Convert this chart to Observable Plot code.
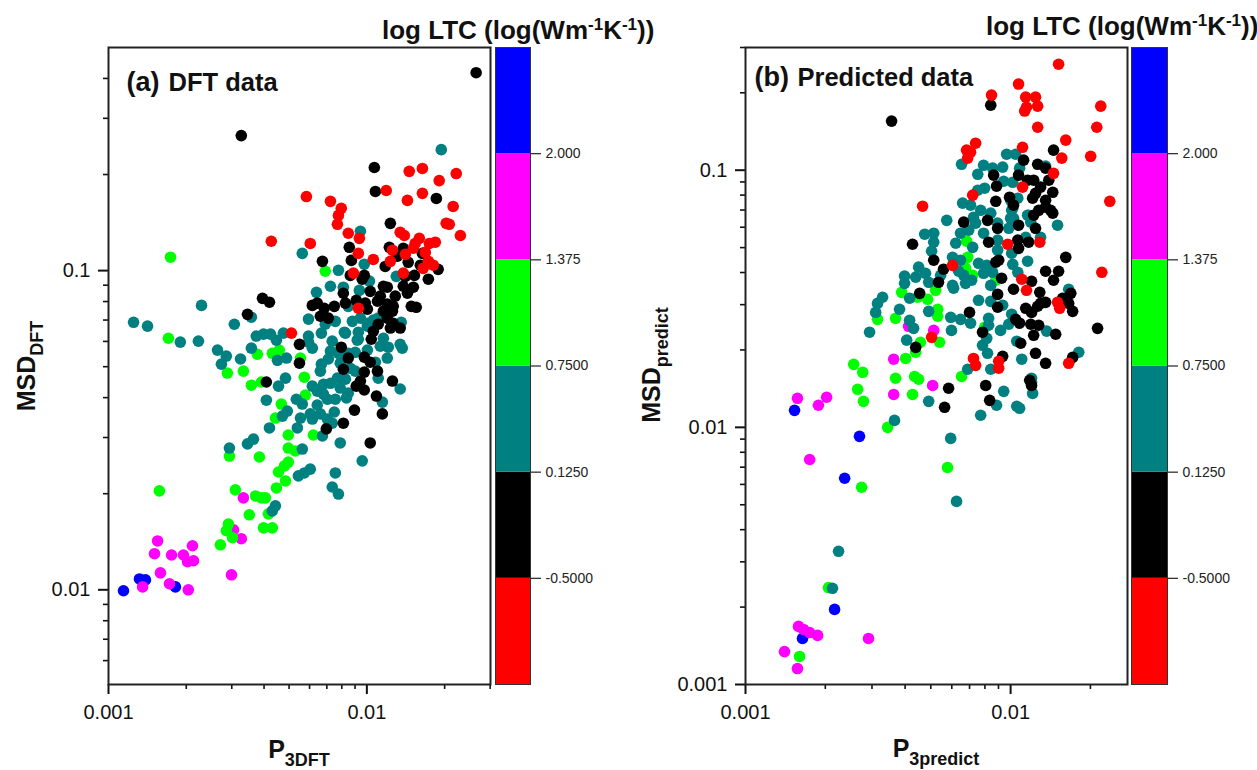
<!DOCTYPE html>
<html><head><meta charset="utf-8">
<script src="https://cdn.jsdelivr.net/npm/d3@7"></script>
<script src="https://cdn.jsdelivr.net/npm/@observablehq/plot@0.6"></script>
<style>
html,body{margin:0;padding:0;background:#fff;}
#page{position:relative;width:1257px;height:770px;overflow:hidden;font-family:"Liberation Sans",Arial,sans-serif;color:#111;}
#page svg{position:absolute;top:0;max-width:none;background:transparent;}
.t{position:absolute;white-space:nowrap;font-weight:bold;line-height:1;}
.lab{font-size:25px;}
.lab sub{font-size:18px;vertical-align:-8px;line-height:0;}
.cb{font-size:26px;}
.cb sup{font-size:17px;vertical-align:9px;line-height:0;}
</style></head><body><div id="page"></div>
<script>
// Values are log10(P3) , log10(MSD) pairs, one list per LTC class.
const aBlue=[[-2.942,-2.003],[-2.880,-1.966],[-2.857,-1.969],[-2.741,-1.991]];
const aMagenta=[[-2.810,-1.847],[-2.822,-1.887],[-2.756,-1.891],[-2.710,-1.891],[-2.694,-1.912],[-2.671,-1.909],[-2.675,-1.862],[-2.799,-1.947],[-2.764,-1.981],[-2.868,-1.991],[-2.691,-2.000],[-2.524,-1.953],[-2.486,-1.840],[-2.478,-1.712],[-2.516,-1.812]];
const aGreen=[[-2.803,-1.690],[-2.567,-1.859],[-2.544,-1.815],[-2.520,-1.837],[-2.536,-1.794],[-2.455,-1.765],[-2.509,-1.687],[-2.431,-1.706],[-2.408,-1.712],[-2.393,-1.712],[-2.381,-1.762],[-2.400,-1.806],[-2.366,-1.806],[-2.350,-1.681],[-2.315,-1.659],[-2.342,-1.631],[-2.319,-1.612],[-2.304,-1.600],[-2.304,-1.556],[-2.277,-1.565],[-2.416,-1.584],[-2.532,-1.581],[-2.304,-1.515],[-2.207,-1.515],[-2.354,-1.462],[-2.331,-1.418],[-2.238,-1.390],[-2.242,-1.334],[-2.447,-1.359],[-2.408,-1.349],[-2.540,-1.321],[-2.478,-1.315],[-2.760,-0.958],[-2.161,-1.002],[-2.768,-1.212],[-2.424,-1.262],[-2.366,-1.259],[-2.339,-1.249],[-2.257,-1.274]];
const aTeal=[[-1.712,-0.621],[-2.025,-0.877],[-2.250,-0.946],[-2.010,-0.980],[-2.110,-0.999],[-1.886,-1.018],[-1.990,-1.033],[-2.141,-1.049],[-2.091,-1.052],[-2.195,-1.068],[-2.029,-1.062],[-2.640,-1.109],[-2.447,-1.146],[-2.903,-1.162],[-2.849,-1.174],[-2.513,-1.168],[-2.226,-1.152],[-2.122,-1.159],[-2.056,-1.159],[-2.161,-1.168],[-2.176,-1.196],[-2.087,-1.193],[-2.428,-1.205],[-2.400,-1.199],[-2.373,-1.199],[-2.350,-1.218],[-2.323,-1.196],[-2.722,-1.224],[-2.652,-1.221],[-2.578,-1.249],[-2.544,-1.268],[-2.563,-1.293],[-2.489,-1.277],[-2.447,-1.243],[-2.346,-1.281],[-2.311,-1.274],[-2.226,-1.205],[-2.226,-1.224],[-2.211,-1.243],[-2.134,-1.221],[-2.141,-1.252],[-2.110,-1.259],[-2.083,-1.196],[-2.033,-1.193],[-2.037,-1.218],[-1.998,-1.249],[-2.045,-1.256],[-2.072,-1.259],[-2.176,-1.293],[-2.149,-1.277],[-2.103,-1.290],[-2.180,-1.315],[-2.064,-1.306],[-2.045,-1.315],[-1.967,-1.287],[-1.936,-1.212],[-1.948,-1.237],[-1.917,-1.240],[-1.921,-1.274],[-1.867,-1.162],[-1.871,-1.231],[-1.863,-1.243],[-1.956,-1.337],[-1.871,-1.371],[-1.940,-1.412],[-2.083,-1.340],[-2.114,-1.337],[-2.141,-1.353],[-2.168,-1.356],[-2.103,-1.368],[-2.072,-1.384],[-2.079,-1.399],[-2.122,-1.403],[-2.153,-1.403],[-2.168,-1.387],[-2.211,-1.362],[-2.192,-1.378],[-2.315,-1.337],[-2.342,-1.362],[-2.389,-1.406],[-2.273,-1.403],[-2.250,-1.418],[-2.192,-1.421],[-2.308,-1.440],[-2.327,-1.456],[-2.257,-1.462],[-2.219,-1.449],[-2.211,-1.465],[-2.180,-1.449],[-2.126,-1.443],[-2.153,-1.465],[-2.134,-1.478],[-2.377,-1.493],[-2.269,-1.493],[-2.172,-1.518],[-2.103,-1.540],[-2.439,-1.528],[-2.462,-1.543],[-2.250,-1.559],[-2.532,-1.556],[-2.018,-1.596],[-2.122,-1.634],[-2.219,-1.622],[-2.242,-1.634],[-2.265,-1.643],[-2.134,-1.678],[-2.110,-1.700],[-2.354,-1.737],[-2.366,-1.753],[-1.998,-1.165],[-1.975,-1.155],[-1.956,-1.149],[-2.025,-1.149],[-2.072,-1.112],[-2.033,-1.215],[-1.998,-1.174]];
const aBlack=[[-1.577,-0.380],[-2.486,-0.577],[-1.971,-0.677],[-1.967,-0.752],[-1.731,-0.774],[-1.909,-0.852],[-2.068,-0.927],[-2.172,-0.971],[-2.060,-0.968],[-1.913,-0.927],[-1.859,-0.930],[-1.785,-0.946],[-1.929,-0.987],[-1.840,-0.974],[-1.882,-0.955],[-1.793,-0.983],[-1.724,-0.996],[-1.762,-1.027],[-1.816,-1.015],[-1.851,-1.018],[-2.010,-1.015],[-2.018,-1.027],[-2.064,-1.015],[-2.404,-1.087],[-2.377,-1.099],[-2.462,-1.137],[-2.091,-1.071],[-2.083,-1.102],[-2.041,-1.093],[-2.006,-1.102],[-1.987,-1.065],[-1.936,-1.049],[-1.921,-1.052],[-1.859,-1.049],[-1.820,-1.052],[-1.843,-1.071],[-1.890,-1.080],[-1.948,-1.080],[-1.959,-1.096],[-1.921,-1.105],[-1.898,-1.112],[-1.828,-1.112],[-1.809,-1.115],[-2.211,-1.109],[-2.192,-1.102],[-2.165,-1.118],[-2.180,-1.143],[-2.149,-1.149],[-2.126,-1.112],[-1.998,-1.121],[-1.936,-1.127],[-1.901,-1.127],[-1.921,-1.149],[-1.898,-1.165],[-1.909,-1.180],[-1.871,-1.180],[-1.956,-1.168],[-1.975,-1.190],[-1.983,-1.215],[-2.261,-1.231],[-2.261,-1.290],[-2.099,-1.240],[-2.389,-1.349],[-2.072,-1.274],[-2.010,-1.271],[-1.987,-1.287],[-2.091,-1.309],[-2.010,-1.318],[-1.959,-1.315],[-2.025,-1.346],[-2.041,-1.362],[-2.010,-1.374],[-1.901,-1.346],[-1.963,-1.393],[-2.048,-1.437],[-1.940,-1.449],[-2.091,-1.478],[-2.157,-1.496],[-1.987,-1.540]];
const aRed=[[-2.234,-0.768],[-2.141,-0.783],[-2.099,-0.805],[-2.110,-0.827],[-2.114,-0.855],[-2.072,-0.883],[-2.029,-0.899],[-2.033,-0.946],[-1.975,-0.965],[-2.052,-1.008],[-2.370,-0.908],[-2.219,-0.915],[-1.925,-0.749],[-1.836,-0.689],[-1.785,-0.680],[-1.720,-0.718],[-1.654,-0.696],[-1.843,-0.780],[-1.785,-0.758],[-1.666,-0.799],[-1.693,-0.852],[-1.681,-0.855],[-1.638,-0.890],[-1.871,-0.880],[-1.855,-0.890],[-1.797,-0.899],[-1.813,-0.915],[-1.758,-0.915],[-1.735,-0.911],[-1.901,-0.936],[-1.851,-0.949],[-1.820,-0.930],[-1.774,-0.943],[-1.909,-0.971],[-1.762,-0.971],[-1.743,-0.983],[-1.782,-0.993],[-2.033,-1.118],[-2.292,-1.196],[-1.859,-1.008]];

const bBlue=[[-2.815,-1.934],[-2.570,-2.035],[-2.626,-2.198],[-2.664,-2.708],[-2.785,-2.821]];
const bMagenta=[[-2.804,-1.887],[-2.725,-1.914],[-2.694,-1.883],[-2.758,-2.125],[-2.800,-2.774],[-2.781,-2.786],[-2.758,-2.798],[-2.728,-2.809],[-2.536,-2.821],[-2.853,-2.872],[-2.804,-2.938],[-2.441,-1.872],[-2.294,-1.837],[-2.441,-1.735],[-2.290,-1.623],[-2.385,-1.607]];
const bGreen=[[-2.796,-2.891],[-2.687,-2.623],[-2.238,-2.156],[-2.562,-2.233],[-2.464,-2.000],[-2.555,-1.899],[-2.577,-1.852],[-2.558,-1.786],[-2.434,-1.809],[-2.370,-1.872],[-2.362,-1.802],[-2.347,-1.813],[-2.185,-1.802],[-2.396,-1.732],[-2.502,-1.580],[-2.434,-1.576],[-2.411,-1.475],[-2.351,-1.494],[-2.313,-1.502],[-2.283,-1.467],[-2.275,-1.541],[-2.275,-1.568],[-2.268,-1.669],[-2.340,-1.669],[-2.358,-1.708],[-2.592,-1.755],[-2.162,-1.339],[-2.170,-1.381],[-2.166,-1.276],[-2.143,-1.409],[-2.056,-1.428],[-2.098,-1.611]];
const bTeal=[[-2.185,-0.977],[-2.124,-1.016],[-2.102,-0.981],[-2.068,-0.992],[-2.030,-0.988],[-2.015,-0.938],[-1.981,-0.938],[-1.966,-0.992],[-2.026,-1.043],[-1.992,-1.047],[-1.868,-0.984],[-2.098,-1.070],[-2.124,-1.078],[-2.181,-1.128],[-2.151,-1.136],[-2.113,-1.156],[-2.075,-1.167],[-2.140,-1.183],[-1.992,-1.148],[-1.973,-1.109],[-2.241,-1.195],[-2.158,-1.233],[-2.189,-1.245],[-2.132,-1.206],[-2.102,-1.245],[-2.049,-1.206],[-2.000,-1.187],[-1.936,-1.175],[-1.924,-1.202],[-1.823,-1.214],[-1.887,-1.261],[-2.207,-1.284],[-2.290,-1.245],[-2.290,-1.280],[-2.143,-1.300],[-2.007,-1.226],[-1.943,-1.261],[-2.324,-1.249],[-2.298,-1.315],[-2.219,-1.339],[-2.189,-1.350],[-2.121,-1.362],[-2.090,-1.370],[-2.102,-1.401],[-2.068,-1.397],[-2.177,-1.409],[-2.196,-1.393],[-2.147,-1.428],[-2.170,-1.440],[-2.347,-1.377],[-2.400,-1.412],[-2.400,-1.440],[-2.358,-1.416],[-2.321,-1.401],[-2.309,-1.436],[-2.264,-1.409],[-2.219,-1.448],[-2.215,-1.459],[-2.075,-1.448],[-2.483,-1.494],[-2.502,-1.518],[-2.509,-1.553],[-2.381,-1.498],[-2.419,-1.541],[-2.309,-1.549],[-2.121,-1.506],[-2.075,-1.510],[-2.030,-1.525],[-2.226,-1.572],[-2.189,-1.580],[-2.151,-1.595],[-2.083,-1.576],[-2.083,-1.603],[-1.996,-1.560],[-2.007,-1.599],[-2.038,-1.623],[-2.381,-1.584],[-2.366,-1.615],[-2.532,-1.630],[-2.223,-1.623],[-2.392,-1.661],[-2.090,-1.654],[-2.106,-1.681],[-2.087,-1.712],[-1.977,-1.665],[-1.958,-1.735],[-1.864,-1.626],[-1.781,-1.463],[-1.743,-1.708],[-1.936,-1.354],[-1.992,-1.366],[-1.973,-1.397],[-2.049,-1.272],[-2.049,-1.311],[-1.996,-1.323],[-1.996,-1.156],[-1.989,-1.187],[-1.932,-1.175],[-2.000,-1.117],[-1.921,-1.825],[-1.917,-1.868],[-2.026,-1.860],[-2.053,-1.914],[-1.977,-1.918],[-1.966,-1.926],[-2.113,-1.953],[-2.309,-1.899],[-2.438,-1.973],[-2.226,-2.043],[-2.204,-2.288],[-2.649,-2.482],[-2.672,-2.626],[-2.162,-1.774],[-2.075,-1.774],[-1.921,-1.809]];
const bBlack=[[-2.449,-0.809],[-2.075,-0.747],[-2.370,-1.288],[-2.290,-1.350],[-2.253,-1.385],[-2.272,-1.436],[-2.343,-1.479],[-2.177,-1.202],[-2.087,-1.195],[-2.049,-1.226],[-2.083,-1.280],[-2.045,-1.350],[-2.056,-1.358],[-1.970,-1.214],[-1.973,-1.272],[-1.970,-1.304],[-1.932,-1.280],[-1.906,-1.226],[-2.056,-1.121],[-2.004,-1.105],[-1.989,-1.136],[-2.053,-1.062],[-2.064,-1.019],[-1.951,-0.961],[-1.898,-0.977],[-1.838,-0.922],[-1.868,-0.992],[-1.970,-1.019],[-1.936,-1.039],[-1.913,-1.039],[-1.856,-1.039],[-1.887,-1.066],[-1.906,-1.090],[-1.841,-1.086],[-1.868,-1.117],[-1.917,-1.109],[-1.894,-1.156],[-1.868,-1.144],[-1.913,-1.175],[-1.849,-1.156],[-1.841,-1.167],[-1.792,-1.339],[-1.868,-1.393],[-1.819,-1.393],[-1.838,-1.428],[-2.034,-1.420],[-1.921,-1.432],[-1.989,-1.463],[-2.049,-1.483],[-1.890,-1.475],[-2.049,-1.533],[-1.943,-1.537],[-1.921,-1.553],[-1.887,-1.518],[-1.868,-1.514],[-1.898,-1.529],[-1.804,-1.498],[-1.773,-1.479],[-1.781,-1.518],[-1.766,-1.549],[-2.155,-1.553],[-1.981,-1.580],[-1.966,-1.595],[-1.924,-1.599],[-1.894,-1.603],[-1.913,-1.642],[-1.830,-1.638],[-1.672,-1.615],[-2.106,-1.630],[-2.358,-1.689],[-1.962,-1.673],[-1.906,-1.712],[-1.868,-1.751],[-1.766,-1.728],[-2.030,-1.724],[-2.234,-1.848],[-2.249,-1.922],[-2.094,-1.837],[-2.079,-1.895],[-1.928,-1.817],[-1.921,-1.837]];
const bRed=[[-1.819,-0.588],[-1.970,-0.665],[-2.072,-0.708],[-1.943,-0.716],[-1.906,-0.716],[-1.940,-0.755],[-1.947,-0.770],[-1.898,-0.751],[-1.660,-0.751],[-1.898,-0.833],[-1.675,-0.833],[-1.792,-0.883],[-1.955,-0.911],[-2.132,-0.895],[-2.166,-0.922],[-2.151,-0.930],[-2.162,-0.953],[-1.698,-0.946],[-1.807,-0.953],[-1.838,-1.012],[-1.955,-1.066],[-2.143,-1.097],[-1.626,-1.121],[-2.332,-1.140],[-2.011,-1.288],[-1.890,-1.280],[-2.219,-1.370],[-1.656,-1.397],[-1.958,-1.424],[-1.940,-1.467],[-1.823,-1.514],[-1.815,-1.537],[-2.298,-1.650],[-2.140,-1.732],[-2.132,-1.759],[-2.045,-1.743],[-2.045,-1.770],[-1.781,-1.751]];

const classColors=["#0000ff","#ff00ff","#00ff00","#008080","#000000","#ff0000"];
const barEdges=[-1.125,-0.5,0.125,0.75,1.375,2,2.625];
const barColors=["#ff0000","#000000","#008080","#00ff00","#ff00ff","#0000ff"];
const barTicks=[-0.5,0.125,0.75,1.375,2];
const barTickLabels=["-0.5000","0.1250","0.7500","1.375","2.000"];

const aXDomain=[0.001,0.0301], aYDomain=[0.00505,0.5];
const bXDomain=[0.001,0.0276], bYDomain=[0.001,0.3];
const aXMajor=[0.001,0.01], aYMajor=[0.01,0.1];
const bXMajor=[0.001,0.01], bYMajor=[0.001,0.01,0.1];
const aXMinor=[0.002,0.003,0.004,0.005,0.006,0.007,0.008,0.009,0.02,0.03];
const aYMinor=[0.006,0.007,0.008,0.009,0.02,0.03,0.04,0.05,0.06,0.07,0.08,0.09,0.2,0.3,0.4];
const bXMinor=[0.002,0.003,0.004,0.005,0.006,0.007,0.008,0.009,0.02];
const bYMinor=[0.002,0.003,0.004,0.005,0.006,0.007,0.008,0.009,0.02,0.03,0.04,0.05,0.06,0.07,0.08,0.09,0.2,0.3];

const page=document.getElementById("page");
const FONT='"Liberation Sans",Arial,sans-serif';

function panel(o){
  const rows=o.groups.flatMap((g,i)=>g.map(([lx,ly])=>({x:10**lx,y:10**ly,c:classColors[i]})));
  const fmt=d=>String(+d.toPrecision(1));
  const chart=Plot.plot({
    width:o.width,height:770,marginLeft:o.marginLeft,marginRight:10,marginTop:47,marginBottom:86,
    style:{fontFamily:FONT,color:"#111"},
    x:{type:"log",domain:o.xDomain},
    y:{type:"log",domain:o.yDomain},
    marks:[
      Plot.axisX({ticks:o.xMinor,tickSize:5,strokeWidth:1.6,tickFormat:()=>"",label:null}),
      Plot.axisY({ticks:o.yMinor,tickSize:5,strokeWidth:1.6,tickFormat:()=>"",label:null}),
      Plot.axisX({ticks:o.xMajor,tickSize:10,strokeWidth:2,tickPadding:10,fontSize:20,tickFormat:fmt,label:null}),
      Plot.axisY({ticks:o.yMajor,tickSize:10,strokeWidth:2,tickPadding:8,fontSize:20,tickFormat:fmt,label:null}),
      Plot.dot(rows,{x:"x",y:"y",r:5.8,fill:"c",stroke:"none"}),
      Plot.frame({stroke:"#222",strokeWidth:2}),
      Plot.text([o.tag],{frameAnchor:"top-left",dx:o.tagX,dy:o.tagY,fontSize:27,fontWeight:"bold",textAnchor:"start",lineAnchor:"bottom",fill:"#111"}),
      Plot.text([o.name],{frameAnchor:"top-left",dx:o.nameX,dy:o.tagY,fontSize:25.5,fontWeight:"bold",textAnchor:"start",lineAnchor:"bottom",fill:"#111"})
    ]
  });
  chart.style.left=o.left+"px";
  page.appendChild(chart);
}
function colorbar(left,w){
  const bands=barColors.map((c,i)=>({lo:barEdges[i],hi:barEdges[i+1],c}));
  const chart=Plot.plot({
    width:w+100,height:770,marginLeft:10,marginRight:90,marginTop:47,marginBottom:86,
    style:{fontFamily:FONT,color:"#222"},
    x:{domain:[0,1],axis:null},
    y:{domain:[barEdges[0],barEdges[6]],axis:null},
    marks:[
      Plot.rect(bands,{x1:0,x2:1,y1:"lo",y2:"hi",fill:"c"}),
      Plot.frame({stroke:"#333",strokeWidth:1}),
      Plot.axisY({anchor:"right",ticks:barTicks,tickSize:10,tickPadding:5,fontSize:14,strokeWidth:1.2,tickFormat:d=>barTickLabels[barTicks.indexOf(d)],label:null})
    ]
  });
  chart.style.left=left+"px";
  page.appendChild(chart);
}
function label(html,cls,cx,cy,rot){
  const d=document.createElement("div");
  d.className="t "+cls;d.innerHTML=html;
  d.style.left=cx+"px";d.style.top=cy+"px";
  d.style.transform="translate(-50%,-50%)"+(rot?" rotate(-90deg)":"");
  page.appendChild(d);
}
function leftLabel(html,x,y){
  const d=document.createElement("div");
  d.className="t cb";d.innerHTML=html;d.style.left=x+"px";d.style.top=y+"px";
  page.appendChild(d);
}

panel({left:0,width:500,marginLeft:108,xDomain:aXDomain,yDomain:aYDomain,xMajor:aXMajor,yMajor:aYMajor,xMinor:aXMinor,yMinor:aYMinor,
  groups:[aBlue,aMagenta,aGreen,aTeal,aBlack,aRed],tag:"(a)",tagX:18,tagY:43,name:"DFT data",nameX:60});
panel({left:640,width:497,marginLeft:105,xDomain:bXDomain,yDomain:bYDomain,xMajor:bXMajor,yMajor:bYMajor,xMinor:bXMinor,yMinor:bYMinor,
  groups:[bBlue,bMagenta,bGreen,bTeal,bBlack,bRed],tag:"(b)",tagX:9,tagY:38,name:"Predicted data",nameX:52});
colorbar(485,35);
colorbar(1121,36);

label('P<sub>3DFT</sub>','lab',299,749);
label('P<sub>3predict</sub>','lab',936,748);
label('MSD<sub>DFT</sub>','lab',26,366,true);
label('MSD<sub>predict</sub>','lab',651,365,true);
const cbTitle='log LTC (log(Wm<sup>-1</sup>K<sup>-1</sup>))';
leftLabel(cbTitle,382,17);
leftLabel(cbTitle,986,13);
</script></body></html>
